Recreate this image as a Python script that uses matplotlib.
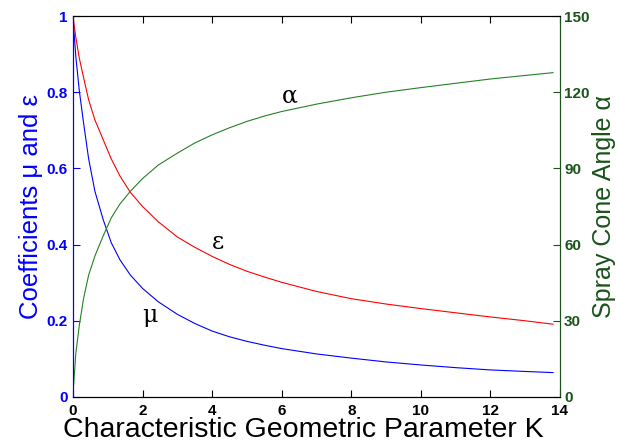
import matplotlib
matplotlib.use("Agg")
import matplotlib.pyplot as plt

# Значения
K = [0, 0.02, 0.08, 0.18, 0.3, 0.45, 0.63, 0.87, 1.1, 1.35, 1.65, 2.0, 2.45,
     3.0, 3.5, 4.0, 4.5, 5.0, 5.5, 6.0, 7.0, 8.0, 9.0, 10.0, 11.0, 12.0, 13.0, 13.8]
mu = [1.0, 0.97, 0.895, 0.805, 0.722, 0.625, 0.54, 0.465, 0.405, 0.36, 0.32, 0.285,
      0.25, 0.217, 0.193, 0.173, 0.158, 0.146, 0.136, 0.127, 0.113, 0.102, 0.092,
      0.084, 0.077, 0.071, 0.067, 0.064]
eps = [1.0, 0.985, 0.945, 0.89, 0.84, 0.78, 0.727, 0.675, 0.625, 0.58, 0.537, 0.5,
       0.46, 0.42, 0.393, 0.369, 0.348, 0.33, 0.315, 0.301, 0.277, 0.258, 0.244,
       0.232, 0.221, 0.21, 0.2, 0.191]
alpha = [3, 5, 17, 28, 38.5, 48, 55.5, 63.5, 70.5, 76, 81, 86, 91.3, 96, 100, 103.2,
         106, 108.5, 110.6, 112.4, 115.3, 117.8, 120, 121.8, 123.5, 125.2, 126.6, 127.7]

plt.rcParams['font.family'] = ['Liberation Sans', 'DejaVu Sans']

blue = (0, 0, 1)
red = (1, 0, 0)
green_line = (0.15, 0.5, 0.15)
dark_green = (0.1, 0.33, 0.1)

fig = plt.figure(figsize=(6.17, 4.47), dpi=100)
ax = fig.add_axes([0.1183, 0.1119, 0.7893, 0.8523])
ax2 = ax.twinx()

ax.plot(K, mu, color=blue, lw=0.8)
ax.plot(K, eps, color=red, lw=0.8)
ax2.plot(K, alpha, color=green_line, lw=0.8)

ax.set_xlim(0, 14)
ax.set_ylim(0, 1)
ax2.set_ylim(0, 150)
ax.set_xticks(range(0, 15, 2))
ax.set_yticks([0, 0.2, 0.4, 0.6, 0.8, 1])
ax.set_yticklabels(['0', '0.2', '0.4', '0.6', '0.8', '1'])
ax2.set_yticks(range(0, 151, 30))

ax.tick_params(axis='x', direction='in', top=True, length=5, labelsize=11,
               colors='black', pad=5)
ax.tick_params(axis='y', direction='in', length=5, labelsize=11,
               colors=blue, pad=4)
ax2.tick_params(axis='y', direction='in', length=5, labelsize=11,
                colors=dark_green, pad=3)
for lab in ax.get_xticklabels() + ax.get_yticklabels() + ax2.get_yticklabels():
    lab.set_fontweight('bold')

ax.spines['left'].set_color(blue)
ax2.spines['left'].set_color(blue)
ax2.spines['right'].set_color(dark_green)
ax.spines['right'].set_color(dark_green)
for s in ['top', 'bottom']:
    ax.spines[s].set_color('black')

ax.set_xlabel('Characteristic Geometric Parameter K', fontsize=20.5, labelpad=-1)
ax.xaxis.label.set_x(0.472)
ax.set_ylabel('Coefficients μ and ε', fontsize=18.5, color=blue, labelpad=2)
ax2.set_ylabel('Spray Cone Angle α', fontsize=18, color=dark_green, labelpad=2)

ax.text(6.24, 0.79, 'α', fontsize=17, family='DejaVu Serif', ha='center', va='center')
ax.text(4.18, 0.405, 'ε', fontsize=17, family='DejaVu Serif', ha='center', va='center')
ax.text(2.2, 0.215, 'μ', fontsize=17, family='DejaVu Serif', ha='center', va='center')

fig.savefig('out.png', dpi=100)
